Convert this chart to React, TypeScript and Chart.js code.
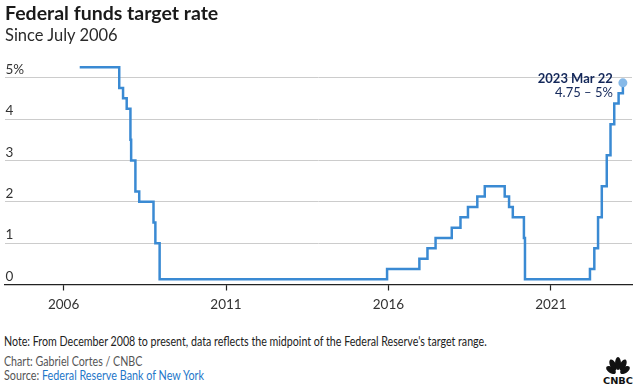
import React, { useEffect, useRef } from "react";
import { Chart, registerables } from "chart.js";

Chart.register(...registerables);

// Effective dates of target changes (new level applies from the date on)
const changeDates: string[] = [
  "2006-07-01", "2007-09-18", "2007-10-31", "2007-12-11", "2008-01-22", "2008-01-30",
  "2008-03-18", "2008-04-30", "2008-10-08", "2008-10-29", "2008-12-16", "2015-12-17",
  "2016-12-15", "2017-03-16", "2017-06-15", "2017-12-14", "2018-03-22", "2018-06-14",
  "2018-09-27", "2018-12-20", "2019-08-01", "2019-09-19", "2019-10-31", "2020-03-04",
  "2020-03-16", "2022-03-17", "2022-05-05", "2022-06-16", "2022-07-28", "2022-09-22",
  "2022-11-03", "2022-12-15", "2023-02-02", "2023-03-22",
];
// Target rate (midpoint of range from Dec 2008), percent
const rateValues: number[] = [
  5.25, 4.75, 4.5, 4.25, 3.5, 3.0,
  2.25, 2.0, 1.5, 1.0, 0.125, 0.375,
  0.625, 0.875, 1.125, 1.375, 1.625, 1.875,
  2.125, 2.375, 2.125, 1.875, 1.625, 1.125,
  0.125, 0.375, 0.875, 1.625, 2.375, 3.125,
  3.875, 4.375, 4.625, 4.875,
];
const xTickYears: number[] = [2006, 2011, 2016, 2021];
const yTickValues: number[] = [0, 1, 2, 3, 4, 5];
const lastLabelDate = "2023 Mar 22";
const lastLabelRange = "4.75 – 5%";

function toDecimalYear(d: string): number {
  const [y, m, day] = d.split("-").map(Number);
  const start = Date.UTC(y, 0, 1);
  const end = Date.UTC(y + 1, 0, 1);
  return y + (Date.UTC(y, m - 1, day) - start) / (end - start);
}

const FONT = "Lato, 'Open Sans', sans-serif";

export default function App() {
  const ref = useRef<HTMLCanvasElement | null>(null);

  useEffect(() => {
    if (!ref.current) return;
    const points = changeDates.map((d, i) => ({ x: toDecimalYear(d), y: rateValues[i] }));
    const lastIdx = points.length - 1;

    const annotationPlugin = {
      id: "lastLabel",
      afterDatasetsDraw(chart: any) {
        const meta = chart.getDatasetMeta(0);
        const el = meta.data[lastIdx];
        if (!el) return;
        const ctx = chart.ctx;
        ctx.save();
        ctx.textAlign = "right";
        ctx.textBaseline = "alphabetic";
        ctx.fillStyle = "#14285a";
        ctx.font = `bold 13px ${FONT}`;
        ctx.fillText(lastLabelDate, el.x - 10, el.y);
        ctx.font = `13px ${FONT}`;
        ctx.fillText(lastLabelRange, el.x - 10, el.y + 14);
        ctx.restore();
      },
    };

    const chart = new Chart(ref.current, {
      type: "line",
      data: {
        datasets: [
          {
            data: points,
            stepped: true,
            borderColor: "#3a8ad3",
            borderWidth: 2.5,
            pointRadius: (c: any) => (c.dataIndex === lastIdx ? 4.5 : 0),
            pointBackgroundColor: "#86b9e8",
            pointBorderWidth: 0,
            pointHoverRadius: 0,
            borderCapStyle: "butt",
            borderJoinStyle: "miter",
          } as any,
        ],
      },
      options: {
        animation: false,
        responsive: false,
        maintainAspectRatio: false,
        events: [],
        layout: { padding: { left: 4, right: 6, top: 57, bottom: 0 } },
        plugins: { legend: { display: false }, tooltip: { enabled: false } },
        scales: {
          x: {
            type: "linear",
            min: 2004.18,
            max: 2023.5,
            afterBuildTicks: (s: any) => {
              s.ticks = xTickYears.map((v) => ({ value: v }));
            },
            afterFit: (s: any) => {
              s.height = 35.5;
            },
            grid: {
              drawOnChartArea: false,
              drawTicks: true,
              tickLength: 6,
              color: "#222",
              tickWidth: 1.2,
            },
            border: { display: true, color: "#222", width: 1.2 },
            ticks: {
              autoSkip: false,
              maxRotation: 0,
              padding: 6,
              color: "#333",
              font: { family: FONT, size: 13.5 },
              callback: (v: any) => String(v),
            },
          },
          y: {
            type: "linear",
            min: 0,
            max: 5.5,
            afterBuildTicks: (s: any) => {
              s.ticks = yTickValues.map((v) => ({ value: v }));
            },
            afterFit: (s: any) => {
              s.width = 0;
            },
            grid: { color: "#cccccc", lineWidth: 1, drawTicks: false },
            border: { display: false },
            ticks: {
              mirror: true,
              padding: 1,
              labelOffset: -8,
              color: "#333",
              font: { family: FONT, size: 13.5 },
              callback: (v: any) => (v === 5 ? "5%" : String(v)),
            },
          },
        },
      },
      plugins: [annotationPlugin],
    });
    return () => chart.destroy();
  }, []);

  const foot: React.CSSProperties = {
    position: "absolute",
    left: 4,
    fontFamily: FONT,
    fontSize: 13,
    lineHeight: "16px",
    whiteSpace: "nowrap",
    transform: "scaleX(0.82)",
    transformOrigin: "0 0",
  };

  return (
    <div
      style={{
        position: "absolute",
        left: 0,
        top: 0,
        width: 638,
        height: 389,
        background: "#fff",
        fontFamily: FONT,
        overflow: "hidden",
      }}
    >
      <canvas ref={ref} width={638} height={320} style={{ position: "absolute", left: 0, top: 0 }} />
      <div
        style={{
          position: "absolute",
          left: 5,
          top: 0,
          fontSize: 19.5,
          fontWeight: 700,
          color: "#1a1a1a",
          lineHeight: "26px",
          whiteSpace: "nowrap",
        }}
      >
        Federal funds target rate
      </div>
      <div
        style={{
          position: "absolute",
          left: 5,
          top: 25,
          fontSize: 16.5,
          color: "#2a2a2a",
          lineHeight: "20px",
          whiteSpace: "nowrap",
        }}
      >
        Since July 2006
      </div>
      <div style={{ ...foot, top: 333, color: "#222" }}>
        Note: From December 2008 to present, data reflects the midpoint of the Federal Reserve's target range.
      </div>
      <div style={{ ...foot, top: 353, color: "#555" }}>Chart: Gabriel Cortes / CNBC</div>
      <div style={{ ...foot, top: 367, color: "#555", transform: "scaleX(0.83)" }}>
        Source: <span style={{ color: "#1f77c9" }}>Federal Reserve Bank of New York</span>
      </div>
      <svg
        width={32}
        height={28}
        viewBox="0 0 32 28"
        style={{ position: "absolute", left: 602, top: 357 }}
      >
        <g fill="#111">
          <ellipse cx={9} cy={13} rx={3.2} ry={5.5} transform="rotate(-55 9 13)" />
          <ellipse cx={11} cy={8} rx={3} ry={6} transform="rotate(-25 11 8)" />
          <ellipse cx={16} cy={6.5} rx={3} ry={6.5} />
          <ellipse cx={21} cy={8} rx={3} ry={6} transform="rotate(25 21 8)" />
          <ellipse cx={23} cy={13} rx={3.2} ry={5.5} transform="rotate(55 23 13)" />
        </g>
        <text
          x={16}
          y={26.5}
          textAnchor="middle"
          fontFamily="'DejaVu Sans', sans-serif"
          fontWeight={700}
          fontSize={8}
          fill="#111"
          textLength={30}
          lengthAdjust="spacingAndGlyphs"
        >
          CNBC
        </text>
      </svg>
    </div>
  );
}
